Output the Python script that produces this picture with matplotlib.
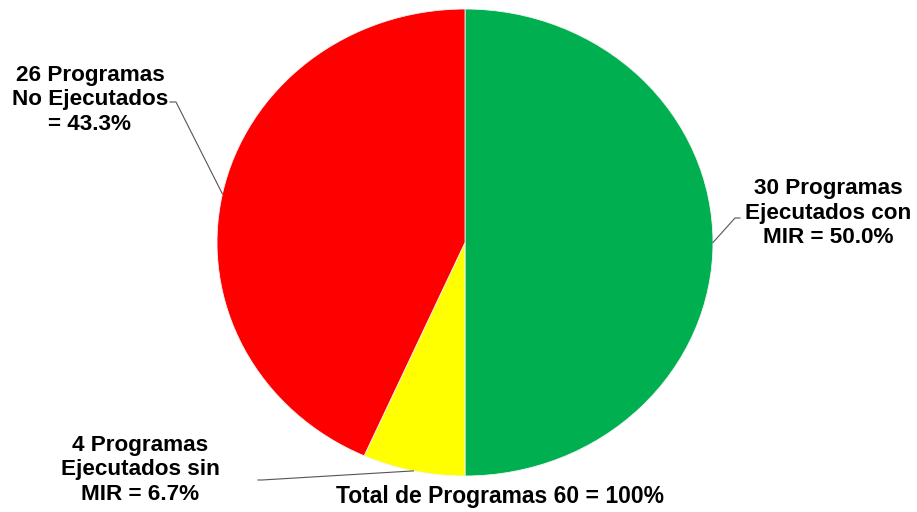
import matplotlib.pyplot as plt
import numpy as np

plt.rcParams['font.family'] = ['Liberation Sans', 'DejaVu Sans']

# data
labels = ["30 Programas\nEjecutados con\nMIR = 50.0%",
          "4 Programas\nEjecutados sin\nMIR = 6.7%",
          "26 Programas\nNo Ejecutados\n= 43.3%"]
values = [30, 4, 26]
colors = ['#00B050', '#FFFF00', '#FF0000']
total_text = "Total de Programas 60 = 100%"

# pie geometry in pixels (the original is slightly squashed)
cx, cy, rx, ry = 465, 242.5, 248, 233.5

def px(x, y):
    return ((x - cx) / rx, (cy - y) / ry)

fig = plt.figure(figsize=(9.17, 5.12), dpi=100)
ax = fig.add_axes([0, 0, 1, 1])
wedges, _ = ax.pie(values, colors=colors, startangle=90, counterclock=False,
                   wedgeprops=dict(edgecolor='#f4f4f4', linewidth=0.6))
ax.set_aspect('auto')
ax.set_xlim(-cx / rx, (917 - cx) / rx)
ax.set_ylim(-(512 - cy) / ry, cy / ry)
ax.axis('off')

# label positions (text centre) and start of leader line, in pixels
text_pos = [(828, 213), (140, 470), (90, 100)]
line_start = [[(740, 218), (735, 218)], [(258, 480), (262, 480)], [(170, 102), (176, 102)]]

for w, lab, tp, ls in zip(wedges, labels, text_pos, line_start):
    ang = np.deg2rad((w.theta1 + w.theta2) / 2)
    ex, ey = np.cos(ang), np.sin(ang)
    tx, ty = px(*tp)
    ax.text(tx, ty, lab, ha='center', va='center', fontsize=16.2,
            fontweight='bold', linespacing=1.2)
    p0 = px(*ls[0])
    p1 = px(*ls[1])
    ax.plot([p0[0], p1[0], ex], [p0[1], p1[1], ey], color='#555555', lw=0.8)

tx, ty = px(500, 497)
ax.text(tx, ty, total_text, ha='center', va='center', fontsize=16.5,
        fontweight='bold')

fig.savefig('out.png', dpi=100, facecolor='white')
